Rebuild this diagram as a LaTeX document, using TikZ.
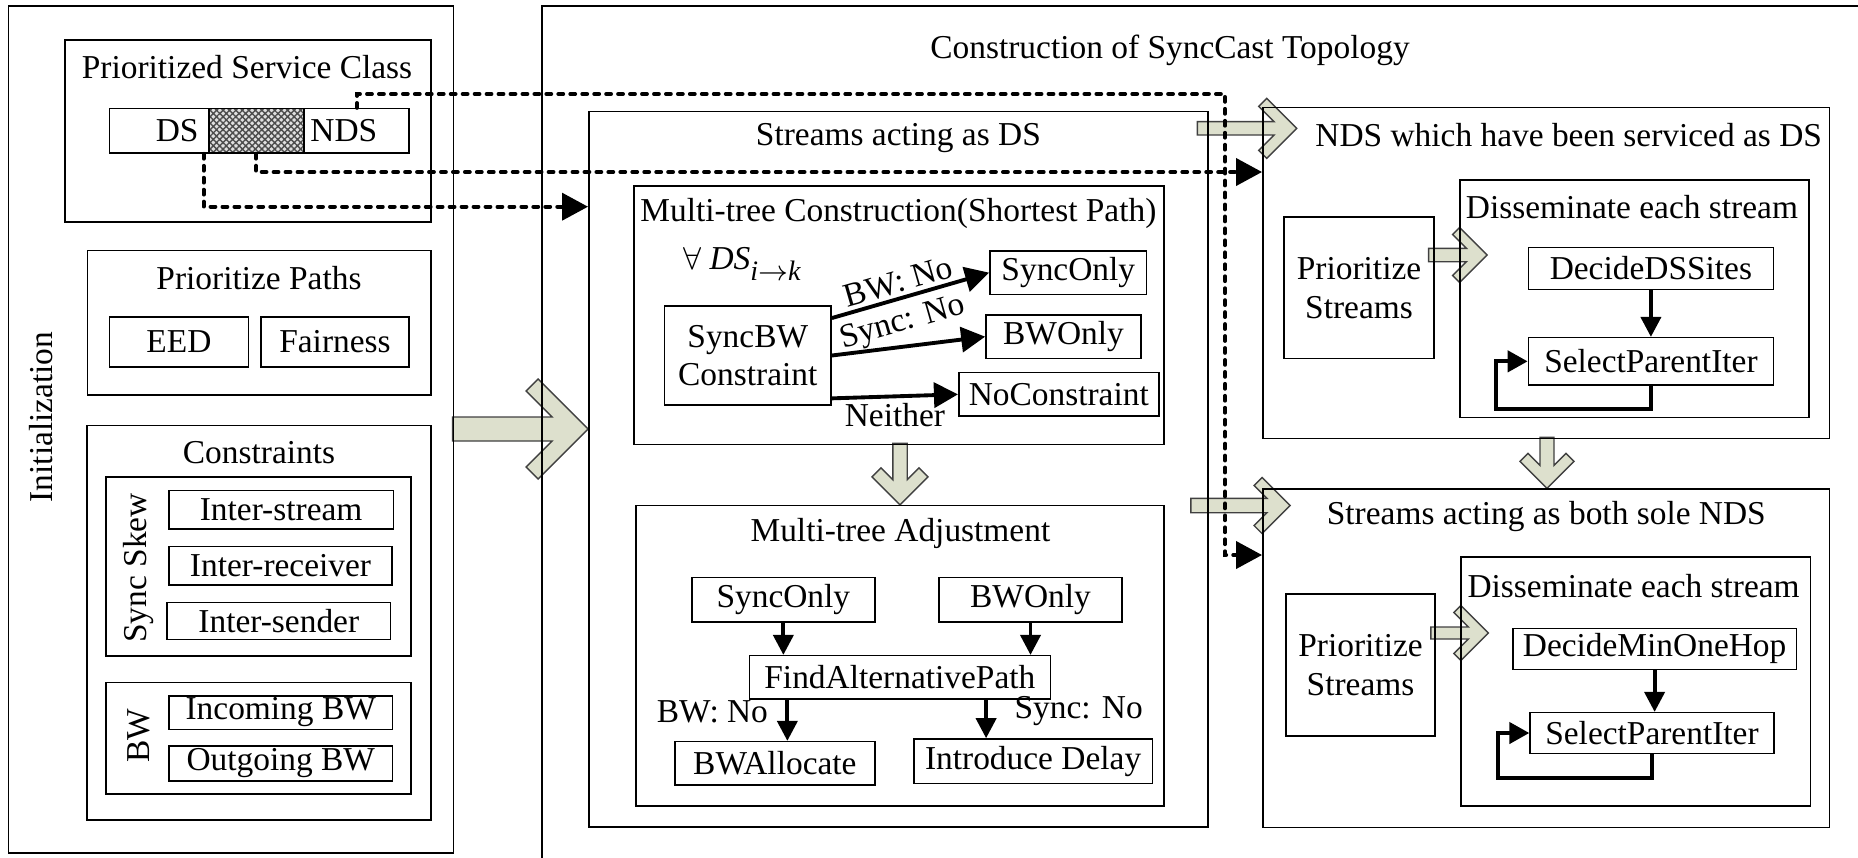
\documentclass[tikz,border=0pt]{standalone}
\usepackage{fontspec}
\setmainfont{Liberation Serif}
\usetikzlibrary{arrows.meta,calc,patterns.meta,backgrounds}
\definecolor{arrowfill}{RGB}{221,224,205}
\tikzset{
  box/.style={draw, line width=0.45pt, inner sep=0pt, align=center},
  corners/.style n args={4}{minimum width={(#3-#1)*0.284528pt}, minimum height={(#4-#2)*0.284528pt},
    at={({(#1+#3)/2},{(#2+#4)/2})}},
  boxtitle/.style={inner sep=1pt, align=center},
  thickarr/.style={line width=1.1pt, -{Triangle[length=0.24cm,width=0.25cm]}},
  downarr/.style={line width=1.1pt, -{Triangle[length=0.2cm,width=0.2cm]}},
  looparr/.style={line width=1.2pt, -{Triangle[length=0.2cm,width=0.21cm]}},
  dotarr/.style={line width=1.1pt, line cap=round, dash pattern=on 1.4pt off 2.0pt, -{Triangle[length=0.26cm,width=0.27cm]}},
  blockstyle/.style={fill=arrowfill, draw=black!75, line width=0.4pt},
  pics/blockarr/.style n args={4}{code={
    \draw[blockstyle] (-#1,-#4) -- ({-2*#3-#4},-#4) -- ({-#2-#3},{-#2+#3}) -- (-#2,-#2) -- (0,0)
      -- (-#2,#2) -- ({-#2-#3},{#2-#3}) -- ({-2*#3-#4},#4) -- (-#1,#4) -- cycle;
  }}
}
\begin{document}
\fontsize{9.5}{11}\selectfont
\begin{tikzpicture}[x=0.01cm, y=-0.01cm]
\useasboundingbox (0,0) rectangle (1858,857);
% Inizializzazione
\node[box, corners={8.7}{6}{453.5}{853}] (init) {};
\node[boxtitle, rotate=90] (initt) at (41.5,417) {Initialization};
\node[box, corners={65}{40}{431}{222}] (psc) {};
\node[boxtitle] (psct) at (247,67) {Prioritized Service Class};
\node[box, corners={109.5}{108.7}{409}{153}] (bar) {};
\node[box, corners={208.8}{108.7}{303.7}{153}, preaction={fill=gray!25},
  pattern={Hatch[angle=45,distance=1.3pt,line width=0.4pt]}, pattern color=black!70] (mix) {};
\node[anchor=east, inner sep=2.5pt] (dst) at (mix.west) {DS};
\node[anchor=west, inner sep=1.5pt] (ndst) at (mix.east) {NDS};
\node[box, corners={87.8}{250.7}{431}{395}] (pp) {};
\node[boxtitle] (ppt) at (259,278) {Prioritize Paths};
\node[box, corners={109.5}{317}{248.3}{366.7}] (eed) {EED};
\node[box, corners={261}{317}{409}{366.7}] (fair) {Fairness};
\node[box, corners={87}{425.7}{431}{820}] (cstr) {};
\node[boxtitle] (cstrt) at (259,453) {Constraints};
\node[box, corners={106}{477}{411}{656}] (skew) {};
\node[boxtitle, rotate=90] (skewt) at (138.4,568) {Sync Skew};
\node[box, corners={168.8}{490.7}{393.4}{529}] (istr) {Inter-stream};
\node[box, corners={169}{546.7}{392}{585}] (irec) {Inter-receiver};
\node[box, corners={167}{602.7}{390.6}{639.3}] (isnd) {Inter-sender};
\node[box, corners={106}{682.7}{411}{794}] (bwc) {};
\node[boxtitle, rotate=90] (bwct) at (138.4,736) {BW};
\node[box, corners={168.8}{695.7}{392.6}{729.3}] (inbw) {Incoming BW};
\node[box, corners={169}{745.7}{392.6}{781}] (outbw) {Outgoing BW};
% Costruzione
\node[box, corners={542.5}{6}{1900}{900}] (cons) {};
\node[boxtitle] (const) at (1170,50) {Construction of SyncCast Topology};
\node[box, corners={589}{111.7}{1207.8}{826.7}] (sds) {};
\node[boxtitle] (sdst) at (898.4,138.3) {Streams acting as DS};
\node[box, corners={634.3}{186}{1163.7}{444.3}] (mtc) {};
\node[boxtitle] (mtct) at (898.4,213.3) {Multi-tree Construction(Shortest Path)};
\node[inner sep=1pt] (forall) at (742,264)
  {$\forall$~\textit{DS}\raisebox{-0.7ex}{\footnotesize\textit{i}$\rightarrow$\textit{k}}};
\node[box, corners={664.5}{306}{831}{405}] (sbw) {SyncBW\\Constraint};
\node[box, corners={990}{251}{1146.6}{294.3}] (so1) {SyncOnly};
\node[box, corners={986}{315}{1141}{358.3}] (bo1) {BWOnly};
\node[box, corners={958.8}{372.7}{1158.8}{416}] (nc1) {NoConstraint};
\node[box, corners={636.3}{505.7}{1163.7}{805.7}] (mta) {};
\node[boxtitle] (mtat) at (900.4,533.3) {Multi-tree Adjustment};
\node[box, corners={692}{577.7}{874.7}{621.7}] (so2) {SyncOnly};
\node[box, corners={939}{577.7}{1122}{621.7}] (bo2) {BWOnly};
\node[box, corners={749.4}{655.7}{1050.3}{699}] (fap) {FindAlternativePath};
\node[box, corners={675}{741.7}{874.7}{785}] (bwa) {BWAllocate};
\node[box, corners={913.9}{739}{1152.3}{783.3}] (idl) {Introduce Delay};
% NDS
\node[box, corners={1263}{107.7}{1829.5}{438.3}] (nds) {};
\node[boxtitle] (ndst2) at (1568.7,135) {NDS which have been serviced as DS};
\node[box, corners={1283.8}{217.3}{1434.2}{358.3}] (ps1) {Prioritize\\Streams};
\node[box, corners={1459.8}{180}{1809.1}{417.3}] (dis1) {};
\node[boxtitle] (dis1t) at (1631.9,206.7) {Disseminate each stream};
\node[box, corners={1528.5}{247.7}{1773.3}{289.3}] (dds) {DecideDSSites};
\node[box, corners={1528.5}{337.7}{1773.3}{385}] (spi1) {SelectParentIter};
\node[box, corners={1263}{489.3}{1829.5}{827.3}] (ndsb) {};
\node[boxtitle] (ndsbt) at (1546.3,516.7) {Streams acting as both sole NDS};
\node[box, corners={1286}{594.3}{1435}{736}] (ps2) {Prioritize\\Streams};
\node[box, corners={1461}{557.3}{1810.4}{805.7}] (dis2) {};
\node[boxtitle] (dis2t) at (1633.6,586) {Disseminate each stream};
\node[box, corners={1513}{628.3}{1796.2}{669.3}] (dmh) {DecideMinOneHop};
\node[box, corners={1530.2}{712.7}{1773.7}{753.3}] (spi2) {SelectParentIter};
% Frecce piene
\begin{scope}[on background layer]
\pic at (sds.west |- 0,429) {blockarr={135.5}{50}{12}{12}};
\pic[rotate=-90] at (mta.north -| 900,0) {blockarr={61.4}{28}{9}{7.2}};
\pic at (1296.7,128.3) {blockarr={99.4}{30}{8}{6.7}};
\pic at (1290,505.5) {blockarr={99.2}{28}{8}{7.2}};
\pic at (1487,255) {blockarr={58.4}{27.5}{7}{6.7}};
\pic at (1488.3,633) {blockarr={57.5}{27.5}{7}{6}};
\pic[rotate=-90] at (ndsb.north -| 1547,0) {blockarr={51}{27}{8}{7}};
\end{scope}
% Frecce
\draw[thickarr] (sbw.24) -- node[pos=.45, above, sloped, inner sep=1pt] (lbw1) {BW: No} (so1.west);
\draw[thickarr] (sbw.east) -- node[pos=.5, above=1pt, rotate=16, inner sep=1pt] (lsy1) {Sync: No} (bo1.west);
\draw[thickarr] (sbw.-27) -- node[midway, below, inner sep=1.5pt] (lnei) {Neither} (nc1.west);
\draw[downarr] (so2.south) -- (so2.south |- fap.north);
\draw[downarr] (bo2.south) -- (bo2.south |- fap.north);
\coordinate (bwin) at ($(bwa.north)+(12.5,0)$);
\coordinate (idin) at ($(idl.north)+(-47,0)$);
\draw[downarr] (bwin |- fap.south) -- node[pos=.3, left=1.8pt] (lbw2) {BW: No} (bwin);
\draw[downarr] (idin |- fap.south) -- node[pos=.3, right=4.4pt] (lsy2) {Sync: No} (idin);
\draw[downarr] (dds.south) -- (dds.south |- spi1.north);
\draw[downarr] (dmh.south) -- (dmh.south |- spi2.north);
\draw[looparr] (spi1.south) -- ++(0,23) -- ++(-155,0) |- (spi1.west);
\draw[looparr] (spi2.south) -- ++(0,24) -- ++(-154,0) |- (spi2.west);
% Tratteggi
\draw[dotarr] (bar.north -| 357,0) |- (1225,94) |- (ndsb.west |- 0,555);
\draw[dotarr] (mix.south -| 256,0) |- (nds.west |- 0,172);
\draw[dotarr] (bar.south -| 203.6,0) |- (sds.west |- 0,206.7);
\end{tikzpicture}
\end{document}
